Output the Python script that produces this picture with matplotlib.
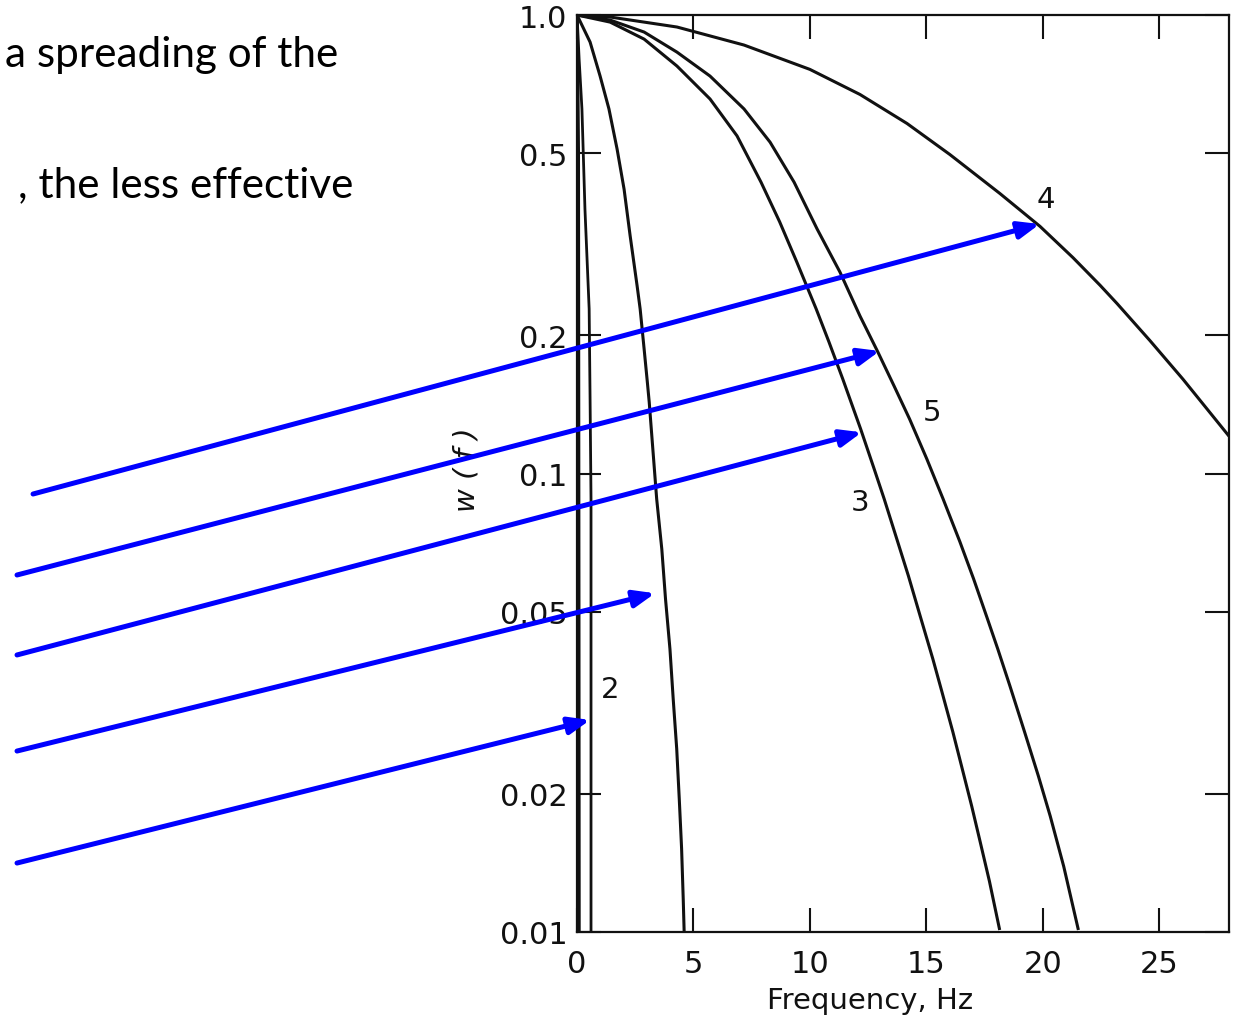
#!/usr/bin/env python3
"""Weighting function w(f) vs frequency, scanned-figure style with blue callout arrows."""

import matplotlib
matplotlib.use("Agg")
import matplotlib.pyplot as plt
from matplotlib.ticker import NullLocator

# ---------------------------------------------------------------------------
# Data (frequency in Hz, w(f) on a log scale)
# ---------------------------------------------------------------------------
curve1_f = [0.0, 0.05, 0.07, 0.08]
curve1_w = [1.0, 0.5, 0.05, 0.01]

curve2_f = [0.0, 0.09, 0.21, 0.34, 0.52, 0.56, 0.60, 0.60]
curve2_w = [1.0, 0.80, 0.624, 0.377, 0.2285, 0.145, 0.088, 0.01]

curve_low_f = [0.0, 0.56, 0.99, 1.37, 1.72, 2.02, 2.28, 2.58, 2.71, 2.88, 3.02,
               3.10, 3.42, 3.64, 3.80, 3.99, 4.13, 4.28, 4.39, 4.49, 4.56, 4.60]
curve_low_w = [1.0, 0.873, 0.736, 0.624, 0.510, 0.417, 0.330, 0.2565, 0.2285,
               0.187, 0.158, 0.143, 0.088, 0.0684, 0.0532, 0.0414, 0.0322,
               0.0251, 0.0195, 0.0152, 0.0118, 0.010]

curve3_f = [0.0, 1.42, 2.88, 4.29, 5.71, 6.87, 7.90, 8.70, 9.44, 10.27, 10.82,
            11.41, 12.18, 12.76, 13.19, 13.69, 14.23, 14.75, 15.28, 15.67,
            16.14, 16.58, 16.95, 17.29, 17.71, 18.15]
curve3_w = [1.0, 0.965, 0.886, 0.774, 0.656, 0.545, 0.432, 0.354, 0.289, 0.2285,
            0.1935, 0.1608, 0.125, 0.1023, 0.088, 0.0731, 0.0598, 0.0486,
            0.0394, 0.0334, 0.0273, 0.0223, 0.0188, 0.0159, 0.0129, 0.0101]

curve5_f = [0.0, 1.42, 2.88, 4.29, 5.71, 7.17, 8.29, 9.32, 10.31, 11.29, 12.15,
            12.92, 13.62, 14.28, 15.02, 15.72, 16.44, 17.03, 17.60, 18.07,
            18.59, 19.22, 19.81, 20.32, 20.90, 21.53]
curve5_w = [1.0, 0.975, 0.918, 0.830, 0.736, 0.624, 0.528, 0.432, 0.3414, 0.275,
            0.2206, 0.184, 0.155, 0.1315, 0.1076, 0.088, 0.071, 0.0589, 0.0486,
            0.0414, 0.0344, 0.0273, 0.0219, 0.0179, 0.0139, 0.0101]

curve4_f = [0.0, 1.42, 4.29, 7.17, 10.0, 12.15, 14.17, 16.01, 18.16, 19.88,
            21.30, 22.46, 23.19, 24.60, 26.02, 28.0]
curve4_w = [1.0, 0.990, 0.9415, 0.860, 0.761, 0.671, 0.580, 0.4963, 0.408,
            0.346, 0.2956, 0.2574, 0.2348, 0.195, 0.1606, 0.1206]

# curve labels: text, frequency, w
label_text = ["4", "5", "3", "2"]
label_f = [20.12, 15.24, 12.15, 1.42]
label_w = [0.397, 0.136, 0.0867, 0.0339]

# arrow tips (data) -- each points at one curve
arrow_tip_f = [19.87, 13.0, 12.23, 3.35, 0.56]
arrow_tip_w = [0.35, 0.185, 0.123, 0.0548, 0.029]
# arrow tails (figure fraction)
arrow_tail_x = [0.0268, 0.0138, 0.0138, 0.0138, 0.0138]
arrow_tail_y = [0.5147, 0.4353, 0.3569, 0.2627, 0.1529]

x_ticks = [0, 5, 10, 15, 20, 25]
y_ticks = [1.0, 0.5, 0.2, 0.1, 0.05, 0.02, 0.01]
y_tick_labels = ["1.0", "0.5", "0.2", "0.1", "0.05", "0.02", "0.01"]

slide_lines = ["a spreading of the", ", the less effective"]

# ---------------------------------------------------------------------------
fig = plt.figure(figsize=(12.33, 10.20), dpi=100)
ax = fig.add_axes([0.468, 0.0853, 0.5288, 0.899])

ink = "#111111"
for f, w, lw in [(curve1_f, curve1_w, 2.6), (curve2_f, curve2_w, 2.0),
                 (curve_low_f, curve_low_w, 2.2), (curve3_f, curve3_w, 2.2),
                 (curve5_f, curve5_w, 2.2), (curve4_f, curve4_w, 2.2)]:
    ax.plot(f, w, color=ink, linewidth=lw, solid_capstyle="butt",
            solid_joinstyle="round")

ax.set_yscale("log")
ax.set_xlim(0, 28)
ax.set_ylim(0.01, 1.0)
ax.set_xticks(x_ticks)
ax.set_xticklabels([str(t) for t in x_ticks])
ax.set_yticks(y_ticks)
ax.set_yticklabels(y_tick_labels)
ax.yaxis.set_minor_locator(NullLocator())
ax.xaxis.set_minor_locator(NullLocator())

ax.tick_params(direction="in", top=True, right=True, length=17, width=1.5,
               labelsize=22, labelcolor=ink, color=ink)
ax.tick_params(axis="x", pad=12)
ax.tick_params(axis="y", pad=7)
for sp in ax.spines.values():
    sp.set_linewidth(1.6)
    sp.set_color(ink)

ax.set_xlabel("Frequency, Hz", fontsize=21, color=ink)
ax.xaxis.set_label_coords(0.449, -0.059)
ax.set_ylabel("w ( f )", fontsize=21, color=ink, style="italic")
ax.yaxis.set_label_coords(-0.170, 0.505)
ax.yaxis.label.set_va("center")

for t, f, w in zip(label_text, label_f, label_w):
    ax.text(f, w, t, fontsize=21, color=ink, ha="center", va="center")

# blue callout arrows
for tf, tw, sx, sy in zip(arrow_tip_f, arrow_tip_w, arrow_tail_x, arrow_tail_y):
    ax.annotate(
        "", xy=(tf, tw), xycoords="data",
        xytext=(sx, sy), textcoords="figure fraction",
        arrowprops=dict(arrowstyle="-|>,head_length=0.45,head_width=0.18",
                        color="#0000ff", lw=3.6, shrinkA=0, shrinkB=0,
                        mutation_scale=28),
        annotation_clip=False, zorder=5,
    )

# slide text on the left
fig.text(338 / 1233, 1 - 67 / 1020, slide_lines[0], fontsize=30.4,
         family=["Lato", "DejaVu Sans"], ha="right", va="baseline", color="black")
fig.text(353 / 1233, 1 - 197 / 1020, slide_lines[1], fontsize=30.4,
         family=["Lato", "DejaVu Sans"], ha="right", va="baseline", color="black")

fig.savefig("out.png", dpi=100)
plt.close(fig)
